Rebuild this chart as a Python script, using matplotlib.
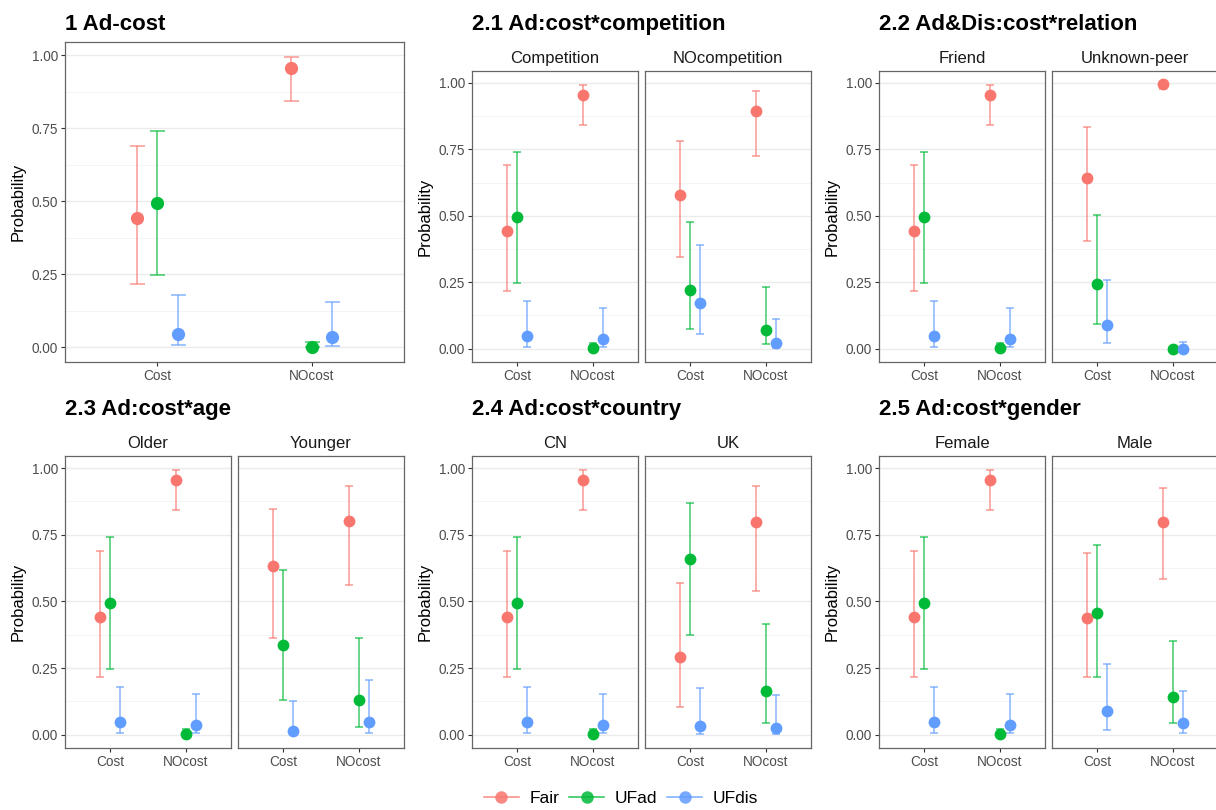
import matplotlib
matplotlib.use("Agg")
import matplotlib.pyplot as plt
from matplotlib.lines import Line2D
from matplotlib.ticker import MultipleLocator

plt.rcParams["font.family"] = ["Liberation Sans", "DejaVu Sans"]

groups = ["Fair", "UFad", "UFdis"]
colors = ["#F8766D", "#00BA38", "#619CFF"]
costs = ["Cost", "NOcost"]

# estimates and 95% intervals, rows = cost level, cols = Fair / UFad / UFdis
# reference cell (Competition, Friend, Older, CN, Female and the pooled model)
ref_est = [[0.442, 0.495, 0.047], [0.956, 0.001, 0.037]]
ref_lo = [[0.217, 0.246, 0.007], [0.842, 0.000, 0.005]]
ref_hi = [[0.690, 0.740, 0.180], [0.992, 0.020, 0.154]]

nocomp_est = [[0.577, 0.220, 0.173], [0.895, 0.072, 0.020]]
nocomp_lo = [[0.346, 0.076, 0.057], [0.727, 0.016, 0.004]]
nocomp_hi = [[0.781, 0.477, 0.389], [0.971, 0.234, 0.110]]

unknown_est = [[0.642, 0.244, 0.089], [0.997, 0.000, 0.000]]
unknown_lo = [[0.406, 0.093, 0.020], [0.979, 0.000, 0.000]]
unknown_hi = [[0.835, 0.504, 0.259], [1.000, 0.002, 0.024]]

younger_est = [[0.632, 0.338, 0.015], [0.800, 0.130, 0.047]]
younger_lo = [[0.363, 0.130, 0.002], [0.560, 0.029, 0.005]]
younger_hi = [[0.847, 0.617, 0.125], [0.934, 0.364, 0.206]]

uk_est = [[0.291, 0.658, 0.032], [0.796, 0.163, 0.025]]
uk_lo = [[0.103, 0.375, 0.002], [0.540, 0.042, 0.003]]
uk_hi = [[0.567, 0.868, 0.175], [0.931, 0.414, 0.147]]

male_est = [[0.439, 0.455, 0.087], [0.798, 0.142, 0.045]]
male_lo = [[0.217, 0.218, 0.017], [0.584, 0.045, 0.005]]
male_hi = [[0.681, 0.711, 0.264], [0.925, 0.352, 0.165]]

W, H = 1216, 810
fig = plt.figure(figsize=(W / 100, H / 100), dpi=100)


def box(x0, x1, y0, y1):
    return [x0 / W, 1 - y1 / H, (x1 - x0) / W, (y1 - y0) / H]


def draw(ax, est, lo, hi, cap, ms, ylabel=True):
    dodge = [-0.133, 0.0, 0.133]
    for g in range(3):
        xs = [c + 1 + dodge[g] for c in range(2)]
        ys = [est[c][g] for c in range(2)]
        err = [[est[c][g] - lo[c][g] for c in range(2)],
               [hi[c][g] - est[c][g] for c in range(2)]]
        ax.errorbar(xs, ys, yerr=err, fmt="none", ecolor=colors[g],
                    elinewidth=1.1, capsize=cap, capthick=1.1, alpha=0.75, zorder=2)
        ax.plot(xs, ys, "o", color=colors[g], ms=ms, mec="none", zorder=3)
    ax.set_xlim(0.4, 2.6)
    ax.set_ylim(-0.05, 1.045)
    ax.set_xticks([1, 2])
    ax.set_xticklabels(costs)
    ax.yaxis.set_major_locator(MultipleLocator(0.25))
    ax.yaxis.set_minor_locator(MultipleLocator(0.125))
    ax.yaxis.set_major_formatter(lambda v, p: f"{v:.2f}")
    ax.grid(axis="y", which="major", color="#EBEBEB", lw=1.0)
    ax.grid(axis="y", which="minor", color="#F2F2F2", lw=0.6)
    ax.set_axisbelow(True)
    ax.tick_params(which="major", length=3, width=0.8, color="#333333",
                   labelcolor="#4D4D4D", labelsize=9.8, pad=2)
    ax.tick_params(which="minor", length=0)
    for s in ax.spines.values():
        s.set_color("#666666")
        s.set_linewidth(0.9)
    if ylabel:
        ax.set_ylabel("Probability", fontsize=12, labelpad=4)
    else:
        ax.tick_params(axis="y", labelleft=False, length=0)


# pooled model
ax = fig.add_axes(box(65, 404, 42, 362))
draw(ax, ref_est, ref_lo, ref_hi, cap=5.4, ms=9.5)
fig.text(65 / W, 1 - 30 / H, "1 Ad-cost", fontsize=16, fontweight="bold", va="baseline")

panels = [
    ("2.1 Ad:cost*competition", "Competition", "NOcompetition",
     nocomp_est, nocomp_lo, nocomp_hi, 472, 0),
    ("2.2 Ad&Dis:cost*relation", "Friend", "Unknown-peer",
     unknown_est, unknown_lo, unknown_hi, 879, 0),
    ("2.3 Ad:cost*age", "Older", "Younger",
     younger_est, younger_lo, younger_hi, 65, 1),
    ("2.4 Ad:cost*country", "CN", "UK",
     uk_est, uk_lo, uk_hi, 472, 1),
    ("2.5 Ad:cost*gender", "Female", "Male",
     male_est, male_lo, male_hi, 879, 1),
]

for title, left_name, right_name, est, lo, hi, x0, row in panels:
    if row == 0:
        top, bottom, strip_y, title_y = 71, 362, 63, 30
    else:
        top, bottom, strip_y, title_y = 456, 748, 448, 415
    facets = [(left_name, ref_est, ref_lo, ref_hi, x0, x0 + 166, True),
              (right_name, est, lo, hi, x0 + 173, x0 + 339, False)]
    for name, e, l, h, a, b, first in facets:
        ax = fig.add_axes(box(a, b, top, bottom))
        draw(ax, e, l, h, cap=2.6, ms=8.5, ylabel=first)
        fig.text((a + b) / 2 / W, 1 - strip_y / H, name, fontsize=12,
                 color="#1A1A1A", ha="center", va="baseline")
    fig.text(x0 / W, 1 - title_y / H, title, fontsize=16, fontweight="bold", va="baseline")

handles = [Line2D([], [], color=c, marker="o", ms=9, lw=1.1, mec="none")
           for c in colors]
for hd in handles:
    hd.set_alpha(0.85)
fig.legend(handles, groups, loc="center", bbox_to_anchor=(621 / W, 1 - 798 / H),
           ncol=3, frameon=False, fontsize=12.5, handlelength=2.0,
           handletextpad=0.6, columnspacing=0.6)

fig.savefig("out.png", dpi=100)
